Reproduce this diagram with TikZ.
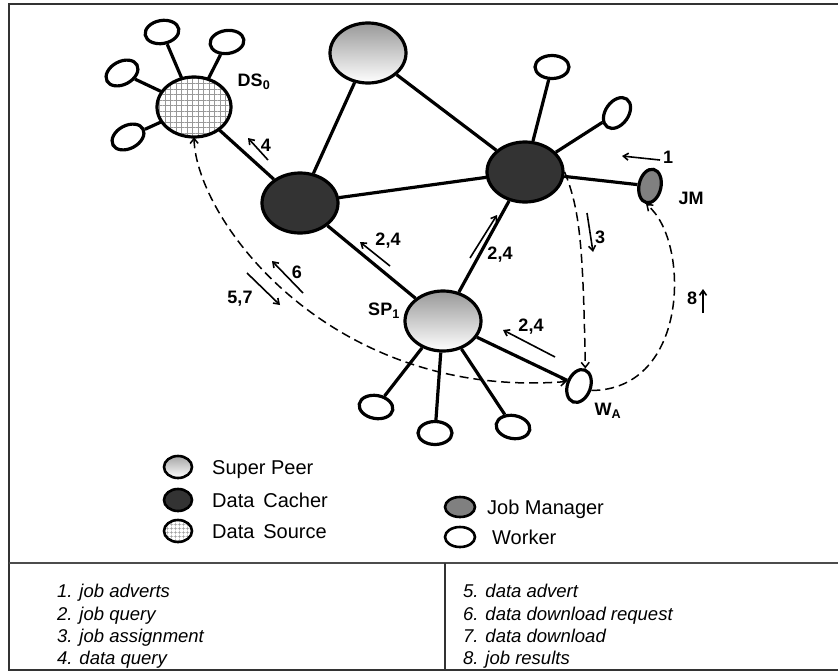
\documentclass[tikz,border=0pt]{standalone}
\usepackage{fontspec}
\setmainfont{Liberation Sans}
\usetikzlibrary{shapes.geometric,patterns,patterns.meta,arrows.meta}
\tikzset{
  nd/.style={ellipse,draw=black,line width=3.2pt,inner sep=0pt},
  peer/.style={nd,minimum width=76pt,minimum height=60pt,top color=black!40,bottom color=white},
  cacher/.style={nd,minimum width=76pt,minimum height=60pt,fill=black!80},
  source/.style={nd,minimum width=74pt,minimum height=60pt,pattern={Hatch[angle=0,distance=5.5pt,line width=0.6pt]},pattern color=black!40},
  sat/.style={nd,minimum width=34pt,minimum height=23pt,fill=white},
  tall/.style={nd,minimum width=23pt,minimum height=34pt,fill=white},
  jmstyle/.style={nd,minimum width=22pt,minimum height=34pt,fill=black!50},
  edge/.style={line width=3.2pt},
  dsh/.style={line width=1.5pt,dash pattern=on 9pt off 5pt},
  dtip/.style={-{Straight Barb[length=5pt,width=8pt]}},
  ann/.style={line width=1.6pt,-{Straight Barb[length=5pt,width=7pt]}},
  lab/.style={font=\fontsize{18}{20}\selectfont\bfseries,inner sep=0pt},
  leg/.style={ellipse,draw=black,line width=2.6pt,inner sep=0pt,minimum width=28pt,minimum height=22pt},
  legtxt/.style={font=\fontsize{20}{23}\selectfont,anchor=base west,inner sep=0pt},
  item/.style={font=\fontsize{18.5}{21}\selectfont\itshape,anchor=base west,inner sep=0pt}
}
\begin{document}
\begin{tikzpicture}[x=1pt,y=-1pt]
\useasboundingbox (0,0) rectangle (838,672);
% frame
\draw[line width=2pt,black!80] (838,4) -- (9,4) -- (9,670) -- (838,670);
\draw[line width=2pt,black!70] (9,563) -- (838,563);
\draw[line width=1.2pt,black!80] (445,563) -- (445,670);

% main nodes
\node[peer] (top) at (368,53) {};
\node[source] (ds) at (194,107) {};
\node[cacher] (lc) at (300,203) {};
\node[cacher] (rc) at (525,172) {};
\node[peer] (sp) at (443,321) {};
\node[jmstyle,rotate=-12] (jm) at (650,186) {};
\node[tall,rotate=-20] (wa) at (579,386) {};

% satellites
\node[sat,rotate=10] (d1) at (162,32) {};
\node[sat,rotate=8] (d2) at (227,42) {};
\node[sat,rotate=28] (d3) at (122,73) {};
\node[sat,rotate=28] (d4) at (128,137) {};
\node[sat] (r1) at (552,67) {};
\node[sat,rotate=55] (r2) at (617,113) {};
\node[sat,rotate=-10] (p1) at (376,407) {};
\node[sat] (p2) at (435,433) {};
\node[sat,rotate=-10] (p3) at (513,427) {};

% edges
\draw[edge] (top) -- (lc);
\draw[edge] (top) -- (rc);
\draw[edge] (lc) -- (rc);
\draw[edge] (lc) -- (ds);
\draw[edge] (lc) -- (sp);
\draw[edge] (rc) -- (sp);
\draw[edge] (rc) -- (jm);
\draw[edge] (rc) -- (r1);
\draw[edge] (rc) -- (r2);
\draw[edge] (sp) -- (wa);
\draw[edge] (sp) -- (p1);
\draw[edge] (sp) -- (p2);
\draw[edge] (sp) -- (p3);
\draw[edge] (ds) -- (d1);
\draw[edge] (ds) -- (d2);
\draw[edge] (ds) -- (d3);
\draw[edge] (ds) -- (d4);

% dashed flows
\draw[dsh,dtip] (rc.east) .. controls (580,210) and (583,245) .. (wa.north);
\draw[dsh,dtip] (wa.east) .. controls (690,390) and (690,240) .. (jm.south);
\draw[dsh,{Straight Barb[length=5pt,width=8pt]}-{Straight Barb[length=5pt,width=8pt]}] (ds.south) .. controls (196,220) and (330,400) .. (wa.west);

% annotation arrows
\coordinate (a4s) at (268,160); \coordinate (a4e) at (248,138);
\draw[ann] (a4s) -- (a4e);
\coordinate (b1s) at (390,266); \coordinate (b1e) at (360,242);
\draw[ann] (b1s) -- (b1e);
\coordinate (b2s) at (470,258); \coordinate (b2e) at (497,215);
\draw[ann] (b2s) -- (b2e);
\coordinate (c1s) at (660,160); \coordinate (c1e) at (622,156);
\draw[ann] (c1s) -- (c1e);
\coordinate (c3s) at (587,213); \coordinate (c3e) at (593,252);
\draw[ann] (c3s) -- (c3e);
\coordinate (c8s) at (703,313); \coordinate (c8e) at (703,289);
\draw[ann] (c8s) -- (c8e);
\coordinate (b3s) at (555,357); \coordinate (b3e) at (503,330);
\draw[ann] (b3s) -- (b3e);
\coordinate (c6s) at (303,293); \coordinate (c6e) at (272,261);
\draw[ann] (c6s) -- (c6e);
\coordinate (c5s) at (247,273); \coordinate (c5e) at (280,305);
\draw[ann] (c5s) -- (c5e);

% labels
\node[lab] (l4) at (266,145) {4};
\node[lab] (lb1) at (388,241) {2,4};
\node[lab] (lb2) at (500,255) {2,4};
\node[lab] (l1) at (668,157) {1};
\node[lab] (l3) at (600,237) {3};
\node[lab] (l8) at (692,298) {8};
\node[lab] (lb3) at (531,327) {2,4};
\node[lab] (l6) at (297,272) {6};
\node[lab] (l57) at (240,299) {5,7};
\node[lab] (lds) at (254,82) {DS\textsubscript{0}};
\node[lab] (ljm) at (691,198) {JM};
\node[lab] (lsp) at (384,311) {SP\textsubscript{1}};
\node[lab] (lwa) at (608,411) {W\textsubscript{A}};

% legend
\node[leg,top color=black!35,bottom color=white] (g1) at (178,467) {};
\node[leg,fill=black!80] (g2) at (178,500) {};
\node[leg,pattern={Hatch[angle=0,distance=4pt,line width=0.5pt]},pattern color=black!40] (g3) at (178,531) {};
\node[leg,fill=black!50,minimum width=30pt,minimum height=20pt] (g4) at (460,507) {};
\node[leg,minimum width=30pt,minimum height=20pt] (g5) at (460,537) {};
\node[legtxt] (t1) at (212,474) {Super Peer};
\node[legtxt] (t2) at (212,507) {Data\, Cacher};
\node[legtxt] (t3) at (212,538) {Data\, Source};
\node[legtxt] (t4) at (487,514) {Job Manager};
\node[legtxt] (t5) at (492,544) {Worker};

% list
\node[item] (i1) at (57,597) {1. job adverts};
\node[item] (i2) at (57,620) {2. job query};
\node[item] (i3) at (57,642) {3. job assignment};
\node[item] (i4) at (57,664) {4. data query};
\node[item] (i5) at (463,597) {5. data advert};
\node[item] (i6) at (463,620) {6. data download request};
\node[item] (i7) at (463,642) {7. data download};
\node[item] (i8) at (463,664) {8. job results};
\end{tikzpicture}
\end{document}
